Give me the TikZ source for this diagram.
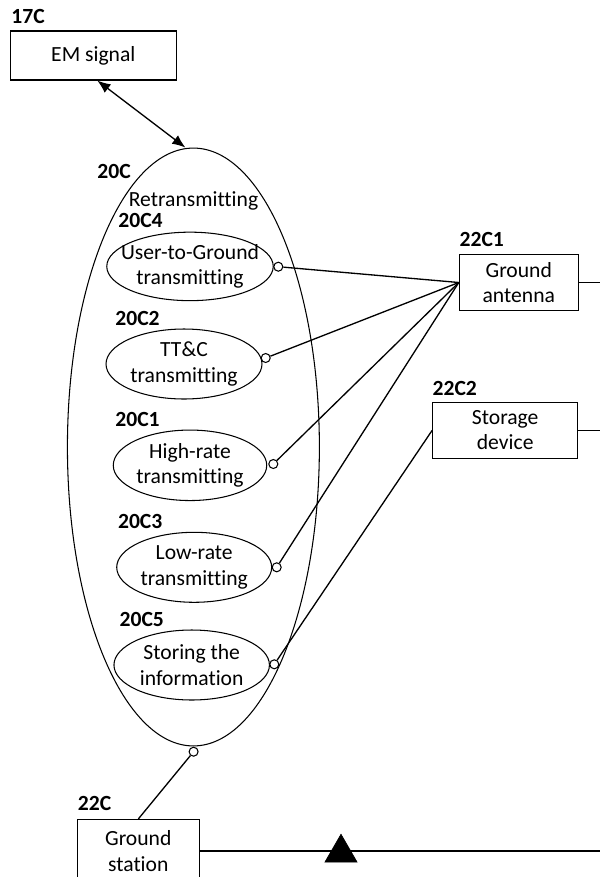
\documentclass[tikz,border=0pt]{standalone}
\usepackage{fontspec}
\setmainfont{Carlito}[Ligatures=NoCommon]
\usepackage{tikz}
\usetikzlibrary{arrows.meta,positioning,shapes.geometric}

\begin{document}
\begin{tikzpicture}[
    x=0.02cm, y=-0.02cm,
    every node/.style={font=\fontsize{12.3}{14.4}\selectfont},
    block/.style={draw, line width=0.6pt, align=center, inner sep=0pt},
    func/.style={draw, ellipse, line width=0.6pt, inner sep=0pt,
                 label={[align=center, inner sep=0pt]center:#1}},
    tag/.style={anchor=base west, inner sep=0pt, font=\fontsize{12.3}{14.4}\selectfont\bfseries},
    port/.style={draw, circle, fill=white, line width=0.6pt, minimum size=0.18cm, inner sep=0pt},
    link/.style={line width=0.75pt},
    >={Latex[length=7.5pt,width=6pt]}
]
\useasboundingbox (0,0) rectangle (600,877);
\clip (0,0) rectangle (600,877);

% EM signal and the retransmitting function
\node[block, minimum width=3.31cm, minimum height=0.98cm] (em) at (93.3,55.5) {EM signal};
\node[tag] at (11,23) {17C};
\node[draw, ellipse, line width=0.6pt, minimum width=5.04cm, minimum height=11.96cm] (retx) at (193.4,447) {};
\node[tag] at (97,178) {20C};
\node[anchor=base, inner sep=0pt] (retxname) at (193.5,206) {Retransmitting};

% sub-functions
\node[func={User-to-Ground\\transmitting}, minimum width=3.33cm, minimum height=1.37cm] (u2g) at (190,266.4) {};
\node[func={TT\&C\\transmitting}, minimum width=3.12cm, minimum height=1.40cm] (ttc) at (184,364) {};
\node[func={High-rate\\transmitting}, minimum width=3.07cm, minimum height=1.41cm] (hrt) at (190,465.3) {};
\node[func={Low-rate\\transmitting}, minimum width=3.10cm, minimum height=1.40cm] (lrt) at (194.2,567.3) {};
\node[func={Storing the\\information}, minimum width=3.11cm, minimum height=1.40cm] (sti) at (191.7,665) {};
\node[tag] at (118,227) {20C4};
\node[tag] at (115,325) {20C2};
\node[tag] at (115,426) {20C1};
\node[tag] at (117.7,528) {20C3};
\node[tag] at (119.3,626.7) {20C5};

% ground side
\node[block, minimum width=2.38cm, minimum height=1.13cm] (ant) at (518.8,282.5) {Ground\\antenna};
\node[tag] at (459.3,246.7) {22C1};
\node[block, minimum width=2.90cm, minimum height=1.12cm] (sto) at (505.2,430.3) {Storage\\device};
\node[tag] at (432.3,395) {22C2};
\node[block, minimum width=2.44cm, minimum height=1.26cm] (gs) at (138.3,851) {Ground\\station};
\node[tag] at (77.5,810.5) {22C};

\coordinate (antout) at (600,282.5);
\coordinate (stoout) at (600,430.3);
\coordinate (gsout) at (600,851);

% connectors
\draw[link, <->] ([xshift=0.08cm]em.south) -- ([xshift=-0.16cm]retx.north);
\draw[link] (ant) -- (antout);
\draw[link] (sto) -- (stoout);
\draw[link] (gs) -- (gsout);

\node[port] (p4) at (278.3,266.7) {};
\node[port] (p2) at (265.7,358) {};
\node[port] (p1) at (273.3,464) {};
\node[port] (p3) at (276.7,567.3) {};
\node[port] (p5) at (274.3,664.3) {};
\node[port] (pb) at (193.6,751.7) {};

\draw[link] (p4) -- (ant.west);
\draw[link] (p2) -- (ant.west);
\draw[link] (p1) -- (ant.west);
\draw[link] (p3) -- (ant.west);
\draw[link] (p5) -- (sto.west);
\draw[link] (pb) -- (gs.north);

\node[draw, fill=black, regular polygon, regular polygon sides=3, minimum size=0.74cm, inner sep=0pt] (flow) at (341,852.8) {};
\end{tikzpicture}
\end{document}
